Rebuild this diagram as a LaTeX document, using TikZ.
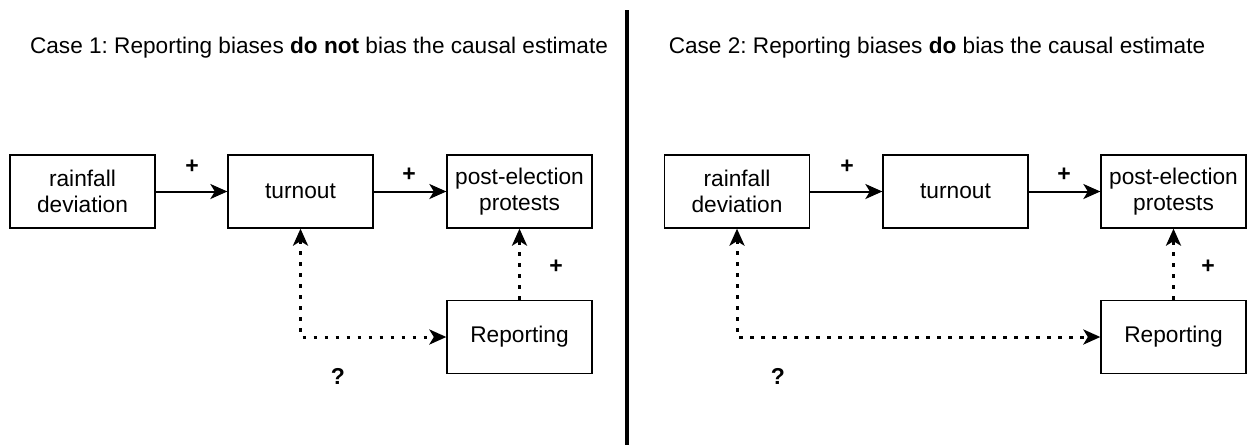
\documentclass[tikz,border=0pt]{standalone}
\usepackage{fontspec}
\setmainfont{Liberation Sans}
\usetikzlibrary{arrows.meta}
\frenchspacing
\begin{document}
\begin{tikzpicture}[x=1pt,y=-1pt,
  box/.style={draw=black,line width=1.3pt,minimum width=145pt,minimum height=73pt,inner sep=0pt,align=center,font=\fontsize{22.7}{25.7}\selectfont},
  tip/.tip={Stealth[length=17pt,width=15pt,inset=4.5pt]},
  solidarrow/.style={line width=2pt,-tip},
  dotarrow/.style={line width=3pt,dash pattern=on 3.5pt off 7.5pt,tip-tip},
  dotuparrow/.style={line width=3pt,dash pattern=on 3.5pt off 7.5pt,-tip},
  sign/.style={font=\fontsize{23}{26}\selectfont\bfseries,inner sep=0pt},
  title/.style={font=\fontsize{22.6}{26}\selectfont,inner sep=0pt,anchor=base}]
\useasboundingbox (0,0) rectangle (1247,445);
% divider
\coordinate (divtop) at (627,10);
\coordinate (divbot) at (627,445);
\draw[line width=3.5pt] (divtop) -- (divbot);
% titles
\node[title] (t1) at (319,53) {Case 1: Reporting biases \textbf{do not} bias the causal estimate};
\node[title] (t2) at (937,53) {Case 2: Reporting biases \textbf{do} bias the causal estimate};
% left panel
\node[box] (rain1) at (82.5,191.5) {rainfall\\deviation};
\node[box] (turn1) at (300.5,191.5) {turnout};
\node[box] (post1) at (519.5,191.5) {post-election\\protests};
\node[box] (rep1) at (519.5,337) {Reporting};
\draw[solidarrow] (rain1) -- (turn1);
\draw[solidarrow] (turn1) -- (post1);
\draw[dotarrow] (turn1.south) |- (rep1.west);
\draw[dotuparrow] (rep1.north) -- (post1.south);
\node[sign] (p1a) at (192,167) {+};
\node[sign] (p1b) at (409,175) {+};
\node[sign] (p1c) at (556,267) {+};
\node[sign] (q1) at (338,376) {?};
% right panel
\node[box] (rain2) at (737,191.5) {rainfall\\deviation};
\node[box] (turn2) at (955.5,191.5) {turnout};
\node[box] (post2) at (1173.5,191.5) {post-election\\protests};
\node[box] (rep2) at (1173.5,337) {Reporting};
\draw[solidarrow] (rain2) -- (turn2);
\draw[solidarrow] (turn2) -- (post2);
\draw[dotarrow] (rain2.south) |- (rep2.west);
\draw[dotuparrow] (rep2.north) -- (post2.south);
\node[sign] (p2a) at (847,167) {+};
\node[sign] (p2b) at (1064,175) {+};
\node[sign] (p2c) at (1208,267) {+};
\node[sign] (q2) at (778,376) {?};
\end{tikzpicture}
\end{document}
